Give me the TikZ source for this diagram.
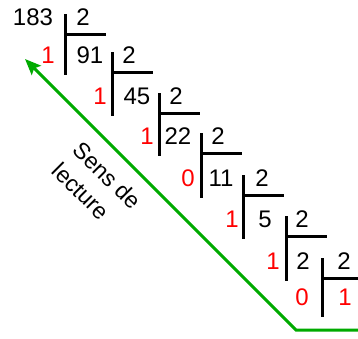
\documentclass[tikz,border=0pt]{standalone}
\usepackage{fontspec}
\setmainfont{Liberation Sans}
\usepackage{xcolor}
\usepackage{tikz}
\usetikzlibrary{arrows.meta, positioning}

\definecolor{restred}{RGB}{255,0,0}
\definecolor{readgreen}{RGB}{0,170,0}

\tikzset{
    digit/.style={inner sep=0pt, font=\fontsize{24}{28}\selectfont},
    restdigit/.style={digit, text=restred},
    divbar/.style={line width=3pt},
    readline/.style={line width=3pt, readgreen, -{Stealth[length=16pt, width=13pt, inset=3pt]}},
}

\begin{document}
\begin{tikzpicture}[x=1pt, y=-1pt]

    % =================================================================
    % 1. CADRE DE LA FIGURE
    % =================================================================
    \useasboundingbox (0,0) rectangle (358,338);

    % =================================================================
    % 2. DIVISIONS SUCCESSIVES PAR 2
    % =================================================================
    % barre x / ligne / ligne suivante / x dividende / x diviseur / x reste / dividende / reste
    \foreach \i/\bx/\ry/\ny/\nx/\dx/\rx/\num/\rest in {
        0/65/17/55/33/83/48/183/1,
        1/112/55/96/90/129/100/91/1,
        2/159/96/136/137/176/147/45/1,
        3/201/136/178/178/218/188/22/0,
        4/243/178/219/221/262/232/11/1,
        5/286/219/261/265/302/273/5/1,
        6/322/261/297/303/344/302/2/0} {

        % Le dividende, le diviseur et le reste
        \node[digit] (num\i) at (\nx,\ry) {\num};
        \node[digit] (div\i) at (\dx,\ry) {2};
        \node[restdigit] (rest\i) at (\rx,\ny) {\rest};

        % La potence de la division
        \coordinate (barTop\i) at (\bx,\ry-3);
        \coordinate (barBot\i) at (\bx,\ny+20);
        \coordinate (barMid\i) at (\bx,\ry+17);
        \coordinate (barEnd\i) at (\bx+41,\ry+17);
        \draw[divbar] (barTop\i) -- (barBot\i);
        \draw[divbar] (barMid\i) -- (barEnd\i);
    }

    % Dernier quotient
    \node[restdigit] (quot) at (345,297) {1};

    % =================================================================
    % 3. SENS DE LECTURE
    % =================================================================
    \coordinate (greenEnd) at (358,330);
    \coordinate (greenCorner) at (296,330);
    \coordinate (greenTip) at (25,59);
    \draw[readline] (greenEnd) -- (greenCorner) -- (greenTip);

    \node[rotate=-45, align=left, inner sep=0pt, font=\fontsize{23}{30}\selectfont]
        (sens) at (97,186) {Sens de\\lecture};

\end{tikzpicture}
\end{document}
